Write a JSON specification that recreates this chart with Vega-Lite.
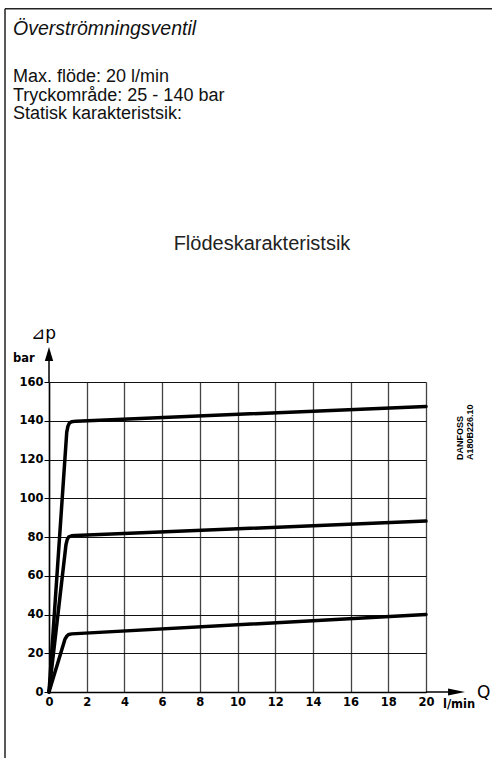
{
  "$schema": "https://vega.github.io/schema/vega-lite/v6.json",
  "autosize": {"type": "none"},
  "width": 377,
  "height": 310,
  "padding": {"left": 49, "top": 382, "right": 66, "bottom": 66},
  "background": "white",
  "config": {
    "view": {"stroke": null},
    "axis": {
      "labelFont": "DejaVu Sans",
      "labelFontSize": 11.5,
      "labelFontWeight": "bold",
      "labelColor": "#000",
      "labelOverlap": false,
      "domainColor": "#000",
      "domainWidth": 1.5,
      "tickColor": "#000",
      "title": null
    }
  },
  "datasets": {
    "curves": [
      {"setting": "140 bar", "q": 0, "dp": 0},
      {"setting": "140 bar", "q": 0.94, "dp": 134},
      {"setting": "140 bar", "q": 1.0, "dp": 137},
      {"setting": "140 bar", "q": 1.08, "dp": 138.8},
      {"setting": "140 bar", "q": 1.2, "dp": 139.5},
      {"setting": "140 bar", "q": 1.45, "dp": 139.8},
      {"setting": "140 bar", "q": 20, "dp": 147.4},
      {"setting": "80 bar", "q": 0, "dp": 0},
      {"setting": "80 bar", "q": 0.9, "dp": 76},
      {"setting": "80 bar", "q": 0.97, "dp": 78.8},
      {"setting": "80 bar", "q": 1.05, "dp": 80.1},
      {"setting": "80 bar", "q": 1.2, "dp": 80.6},
      {"setting": "80 bar", "q": 1.4, "dp": 80.8},
      {"setting": "80 bar", "q": 20, "dp": 88.2},
      {"setting": "30 bar", "q": 0, "dp": 0},
      {"setting": "30 bar", "q": 0.85, "dp": 27.3},
      {"setting": "30 bar", "q": 0.95, "dp": 28.9},
      {"setting": "30 bar", "q": 1.05, "dp": 29.7},
      {"setting": "30 bar", "q": 1.2, "dp": 30},
      {"setting": "30 bar", "q": 20, "dp": 40}
    ]
  },
  "layer": [
    {
      "data": {"name": "curves"},
      "mark": {"type": "line", "color": "#000", "strokeWidth": 3.5, "strokeCap": "round", "strokeJoin": "round"},
      "encoding": {
        "x": {
          "field": "q", "type": "quantitative",
          "scale": {"domain": [0, 20], "nice": false, "zero": false},
          "axis": {"values": [0, 2, 4, 6, 8, 10, 12, 14, 16, 18, 20], "tickCount": 11, "grid": true, "gridColor": "#444", "gridWidth": 1.3, "ticks": false, "labelPadding": 4, "labelFlush": false}
        },
        "y": {
          "field": "dp", "type": "quantitative",
          "scale": {"domain": [0, 160], "nice": false, "zero": false},
          "axis": {"values": [0, 20, 40, 60, 80, 100, 120, 140, 160], "tickCount": 9, "grid": true, "gridColor": "#111", "gridWidth": 1, "tickSize": 5, "labelPadding": 1, "labelFlush": false}
        },
        "detail": {"field": "setting"}
      }
    },
    {
      "data": {"values": [{}]},
      "mark": {"type": "rule", "color": "#000", "strokeWidth": 1.5},
      "encoding": {"x": {"datum": 0}, "y": {"datum": 160}, "y2": {"datum": 171}}
    },
    {
      "data": {"values": [{}]},
      "mark": {"type": "rule", "color": "#000", "strokeWidth": 1.5},
      "encoding": {"x": {"datum": 20}, "x2": {"datum": 21.2}, "y": {"datum": 0}}
    },
    {
      "data": {"values": [{}]},
      "mark": {"type": "point", "filled": true, "color": "#000", "opacity": 1, "shape": "M0,-1L0.6,1L-0.6,1Z", "size": 196},
      "encoding": {"x": {"datum": 0}, "y": {"datum": 174.5}}
    },
    {
      "data": {"values": [{}]},
      "mark": {"type": "point", "filled": true, "color": "#000", "opacity": 1, "shape": "M1,0L-1,-0.42L-1,0.42Z", "size": 289},
      "encoding": {"x": {"datum": 21.62}, "y": {"datum": 0}}
    },
    {
      "data": {"values": [{}]},
      "mark": {"type": "rule", "color": "#222", "strokeWidth": 1.5},
      "encoding": {"x": {"datum": -2.334}, "y": {"datum": -35}, "y2": {"datum": 352.6}}
    },
    {
      "data": {"values": [{}]},
      "mark": {"type": "rule", "color": "#222", "strokeWidth": 1.5},
      "encoding": {"x": {"datum": -2.334}, "x2": {"datum": 23.6}, "y": {"datum": 352.6}}
    },
    {
      "data": {"values": [{}]},
      "mark": {"type": "text", "text": "Överströmningsventil", "font": "Liberation Sans", "fontSize": 19.5, "fontStyle": "italic", "align": "left", "baseline": "alphabetic", "color": "#111"},
      "encoding": {"x": {"datum": -1.91}, "y": {"datum": 339.1}}
    },
    {
      "data": {"values": [{}]},
      "mark": {"type": "text", "text": "Max. flöde: 20 l/min", "font": "Liberation Sans", "fontSize": 18, "align": "left", "baseline": "alphabetic", "color": "#111"},
      "encoding": {"x": {"datum": -1.91}, "y": {"datum": 314.7}}
    },
    {
      "data": {"values": [{}]},
      "mark": {"type": "text", "text": "Tryckområde: 25 - 140 bar", "font": "Liberation Sans", "fontSize": 18, "align": "left", "baseline": "alphabetic", "color": "#111"},
      "encoding": {"x": {"datum": -1.91}, "y": {"datum": 305.2}}
    },
    {
      "data": {"values": [{}]},
      "mark": {"type": "text", "text": "Statisk karakteristsik:", "font": "Liberation Sans", "fontSize": 18, "align": "left", "baseline": "alphabetic", "color": "#111"},
      "encoding": {"x": {"datum": -1.91}, "y": {"datum": 295.7}}
    },
    {
      "data": {"values": [{}]},
      "mark": {"type": "text", "text": "Flödeskarakteristsik", "font": "Liberation Sans", "fontSize": 20, "align": "center", "baseline": "alphabetic", "color": "#222"},
      "encoding": {"x": {"datum": 11.3}, "y": {"datum": 228.1}}
    },
    {
      "data": {"values": [{}]},
      "mark": {"type": "text", "text": "⊿p", "font": "DejaVu Sans", "fontSize": 17, "align": "left", "baseline": "alphabetic", "color": "#000"},
      "encoding": {"x": {"datum": -0.95}, "y": {"datum": 182.2}}
    },
    {
      "data": {"values": [{}]},
      "mark": {"type": "text", "text": "bar", "font": "DejaVu Sans", "fontSize": 11.5, "fontWeight": "bold", "align": "left", "baseline": "alphabetic", "color": "#000"},
      "encoding": {"x": {"datum": -1.91}, "y": {"datum": 170.3}}
    },
    {
      "data": {"values": [{}]},
      "mark": {"type": "text", "text": "Q", "font": "DejaVu Sans", "fontSize": 17, "align": "left", "baseline": "alphabetic", "color": "#000"},
      "encoding": {"x": {"datum": 22.7}, "y": {"datum": -3.1}}
    },
    {
      "data": {"values": [{}]},
      "mark": {"type": "text", "text": "l/min", "font": "DejaVu Sans", "fontSize": 11.5, "fontWeight": "bold", "align": "left", "baseline": "alphabetic", "color": "#000"},
      "encoding": {"x": {"datum": 20.9}, "y": {"datum": -8.5}}
    },
    {
      "data": {"values": [{}]},
      "mark": {"type": "text", "text": ["DANFOSS", "A180B226.10"], "lineHeight": 10.5, "angle": 270, "font": "Liberation Sans", "fontSize": 9, "fontWeight": "bold", "align": "left", "baseline": "alphabetic", "color": "#000"},
      "encoding": {"x": {"datum": 21.96}, "y": {"datum": 119.7}}
    }
  ]
}
